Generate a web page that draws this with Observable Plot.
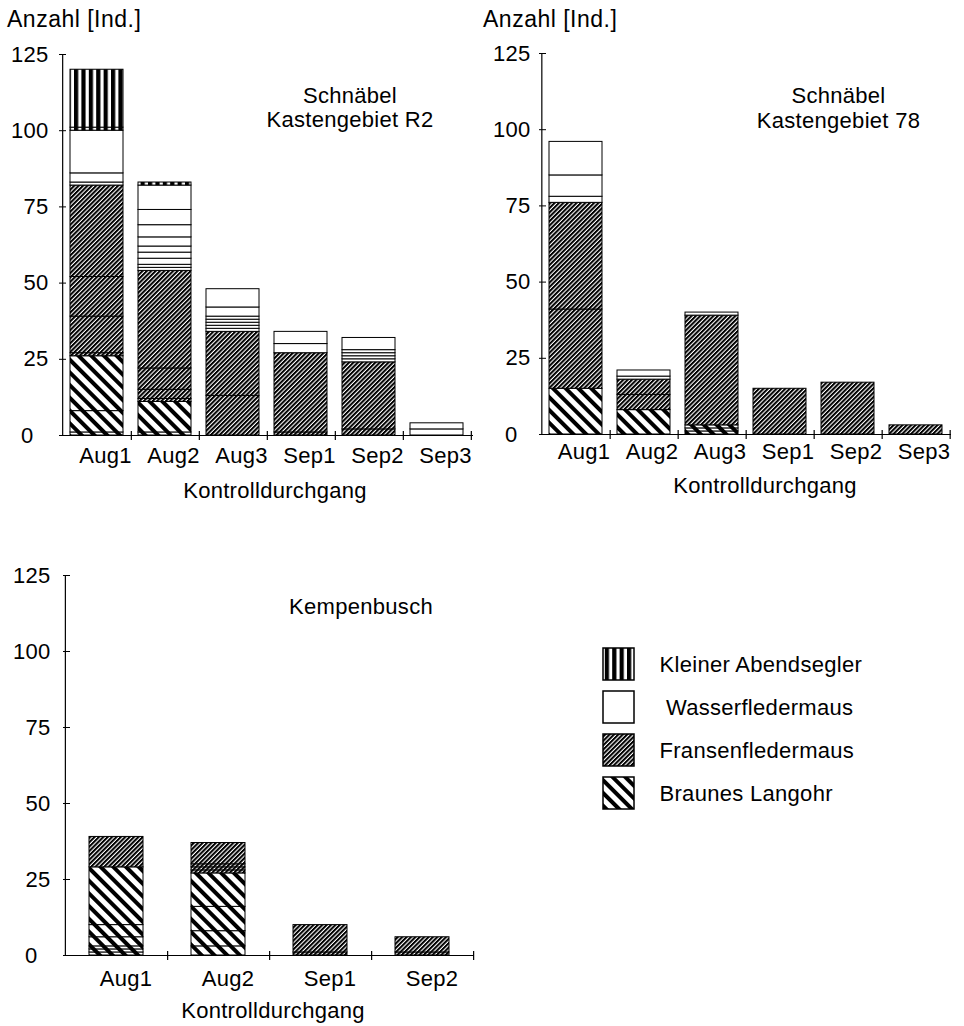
<!DOCTYPE html>
<html>
<head>
<meta charset="utf-8">
<script src="https://cdn.jsdelivr.net/npm/d3@7"></script>
<script src="https://cdn.jsdelivr.net/npm/@observablehq/plot@0.6"></script>
<style>
  body { margin: 0; background: #fff; }
  #page { position: relative; width: 964px; height: 1026px; background: #fff; overflow: hidden; }
  .chart { position: absolute; }
  #overlay { position: absolute; left: 0; top: 0; pointer-events: none; }
  #overlay text { font-family: "Liberation Sans", Arial, sans-serif; font-size: 22px; letter-spacing: 0.3px; fill: #000; }
</style>
</head>
<body>
<div id="page">
  <svg width="0" height="0" style="position:absolute;left:0;top:0">
    <defs>
      <pattern id="mA" patternUnits="userSpaceOnUse" width="7.4" height="10">
        <rect width="7.4" height="10" fill="#fff"/><rect width="4.2" height="10" fill="#000"/>
      </pattern>
      <pattern id="mF" patternUnits="userSpaceOnUse" width="3.1" height="10" patternTransform="rotate(45)">
        <rect width="3.1" height="10" fill="#fff"/><rect width="2" height="10" fill="#000"/>
      </pattern>
      <pattern id="mL" patternUnits="userSpaceOnUse" width="9" height="10" patternTransform="rotate(-45)">
        <rect width="9" height="10" fill="#fff"/><rect width="4" height="10" fill="#000"/>
      </pattern>
    </defs>
  </svg>
  <div id="p1" class="chart" style="left:0px;top:0px"></div>
  <div id="p2" class="chart" style="left:480px;top:0px"></div>
  <div id="p3" class="chart" style="left:0px;top:540px"></div>
  <div id="leg" class="chart" style="left:590px;top:630px"></div>
  <svg id="overlay" width="964" height="1026">
    <text x="7" y="26.5" style="font-size:23px;letter-spacing:0.5px">Anzahl [Ind.]</text>
    <text x="483" y="26.5" style="font-size:23px;letter-spacing:0.5px">Anzahl [Ind.]</text>
    <text x="350" y="103" text-anchor="middle">Schnäbel</text>
    <text x="350" y="127" text-anchor="middle">Kastengebiet R2</text>
    <text x="838.5" y="103" text-anchor="middle">Schnäbel</text>
    <text x="838.5" y="127.5" text-anchor="middle">Kastengebiet 78</text>
    <text x="361" y="614" text-anchor="middle">Kempenbusch</text>
    <text x="275" y="498" text-anchor="middle">Kontrolldurchgang</text>
    <text x="765" y="493" text-anchor="middle">Kontrolldurchgang</text>
    <text x="273" y="1018" text-anchor="middle">Kontrolldurchgang</text>
  </svg>
</div>
<script>
// ---- species (codes, legend names, fills) ----
const arten = ["A", "W", "F", "L"];
const artNamen = ["Kleiner Abendsegler", " Wasserfledermaus", "Fransenfledermaus", "Braunes Langohr"];
const artMuster = ["url(#mA)", "#ffffff", "url(#mF)", "url(#mL)"];
const yTicks = [0, 25, 50, 75, 100, 125];

// ---- Schnäbel, Kastengebiet R2: [Durchgang, Art, Anzahl je Kasten] from bottom to top ----
const durchgaengeR2 = ["Aug1", "Aug2", "Aug3", "Sep1", "Sep2", "Sep3"];
const kastenR2 = [
  ["Aug1","L",1],["Aug1","L",7],["Aug1","L",18],["Aug1","F",1],["Aug1","F",12],["Aug1","F",13],["Aug1","F",30],
  ["Aug1","W",1],["Aug1","W",3],["Aug1","W",14],["Aug1","A",1],["Aug1","A",19],
  ["Aug2","L",1],["Aug2","L",10],["Aug2","F",1],["Aug2","F",3],["Aug2","F",7],["Aug2","F",32],
  ["Aug2","W",1],["Aug2","W",1],["Aug2","W",2],["Aug2","W",2],["Aug2","W",2],["Aug2","W",3],["Aug2","W",4],["Aug2","W",5],["Aug2","W",8],["Aug2","A",1],
  ["Aug3","F",13],["Aug3","F",21],["Aug3","W",1],["Aug3","W",1],["Aug3","W",1],["Aug3","W",1],["Aug3","W",1],["Aug3","W",3],["Aug3","W",6],
  ["Sep1","F",1],["Sep1","F",26],["Sep1","W",3],["Sep1","W",4],
  ["Sep2","F",2],["Sep2","F",22],["Sep2","W",1],["Sep2","W",1],["Sep2","W",1],["Sep2","W",1],["Sep2","W",4],
  ["Sep3","W",2],["Sep3","W",2]
];

// ---- Schnäbel, Kastengebiet 78 ----
const durchgaenge78 = ["Aug1", "Aug2", "Aug3", "Sep1", "Sep2", "Sep3"];
const kasten78 = [
  ["Aug1","L",15],["Aug1","F",26],["Aug1","F",35],["Aug1","W",2],["Aug1","W",7],["Aug1","W",11],
  ["Aug2","L",8],["Aug2","F",5],["Aug2","F",5],["Aug2","W",1],["Aug2","W",2],
  ["Aug3","L",1],["Aug3","L",1],["Aug3","L",1],["Aug3","F",36],["Aug3","W",1],
  ["Sep1","F",15],
  ["Sep2","F",17],
  ["Sep3","F",3]
];

// ---- Kempenbusch ----
const durchgaengeKB = ["Aug1", "Aug2", "Sep1", "Sep2"];
const kastenKB = [
  ["Aug1","L",1],["Aug1","L",1],["Aug1","L",1],["Aug1","L",3],["Aug1","L",4],["Aug1","L",19],["Aug1","F",10],
  ["Aug2","L",3],["Aug2","L",5],["Aug2","L",8],["Aug2","L",11],["Aug2","F",1],["Aug2","F",1],["Aug2","F",1],["Aug2","F",7],
  ["Sep1","F",1],["Sep1","F",9],
  ["Sep2","F",1],["Sep2","F",5]
];

const baseStyle = {
  fontFamily: '"Liberation Sans", Arial, sans-serif',
  fontSize: "22px",
  letterSpacing: "0.3px",
  color: "#000",
  background: "transparent",
  overflow: "visible"
};

function panel(cfg) {
  const {cats, segs, width, height, ml, mr, mt, mb, pad, xPad, xDx, yPad, zeroPad} = cfg;
  const step = (width - ml - mr) / cats.length;
  return Plot.plot({
    width, height,
    marginLeft: ml, marginRight: mr, marginTop: mt, marginBottom: mb,
    x: {domain: cats, paddingInner: pad, paddingOuter: pad / 2},
    y: {domain: [0, 125]},
    color: {type: "ordinal", domain: arten, range: artMuster},
    style: baseStyle,
    marks: [
      Plot.barY(segs, {x: d => d[0], y: d => d[2], fill: d => d[1], stroke: "#000", strokeWidth: 1}),
      Plot.ruleY([0], {stroke: "#000", strokeWidth: 1.2}),
      Plot.ruleX([cats[0]], {dx: -step / 2, stroke: "#000", strokeWidth: 1.2}),
      Plot.ruleX(cats, {dx: step / 2, y1: 0, y2: 0, insetTop: -4, insetBottom: -5, stroke: "#000", strokeWidth: 1.2}),
      Plot.axisY(yTicks, {tickSize: 7, dx: 5, tickFormat: () => "", label: null, stroke: "#000"}),
      Plot.axisY(yTicks.filter(v => v > 0), {tickSize: 0, tickPadding: yPad, label: null, fill: "#000"}),
      Plot.axisY([0], {tickSize: 0, tickPadding: zeroPad, label: null, fill: "#000"}),
      Plot.axisX(cats, {tickSize: 0, tickPadding: xPad, dx: xDx, label: null, fill: "#000"})
    ]
  });
}

document.getElementById("p1").append(panel({
  cats: durchgaengeR2, segs: kastenR2, width: 480, height: 510,
  ml: 61, mr: 7, mt: 54, mb: 75, pad: 0.22, xPad: 12, xDx: 8.5, yPad: 13, zeroPad: 28
}));
document.getElementById("p2").append(panel({
  cats: durchgaenge78, segs: kasten78, width: 484, height: 510,
  ml: 61, mr: 13, mt: 53, mb: 76, pad: 0.22, xPad: 9, xDx: 8, yPad: 11, zeroPad: 24
}));
document.getElementById("p3").append(panel({
  cats: durchgaengeKB, segs: kastenKB, width: 480, height: 460,
  ml: 65, mr: 6, mt: 35, mb: 45, pad: 0.47, xPad: 15, xDx: 9.5, yPad: 15, zeroPad: 28
}));

// ---- legend ----
document.getElementById("leg").append(Plot.plot({
  width: 300, height: 180,
  marginLeft: 13, marginRight: 256, marginTop: 17, marginBottom: 1,
  y: {domain: arten, paddingInner: 0.26, paddingOuter: 0, axis: null},
  color: {type: "ordinal", domain: arten, range: artMuster},
  style: {...baseStyle, whiteSpace: "pre"},
  marks: [
    Plot.cell(arten, {y: d => d, fill: d => d, stroke: "#000", strokeWidth: 1.5}),
    Plot.text(arten, {y: d => d, text: d => artNamen[arten.indexOf(d)], frameAnchor: "right", textAnchor: "start", dx: 25, fill: "#000"})
  ]
}));
</script>
</body>
</html>
